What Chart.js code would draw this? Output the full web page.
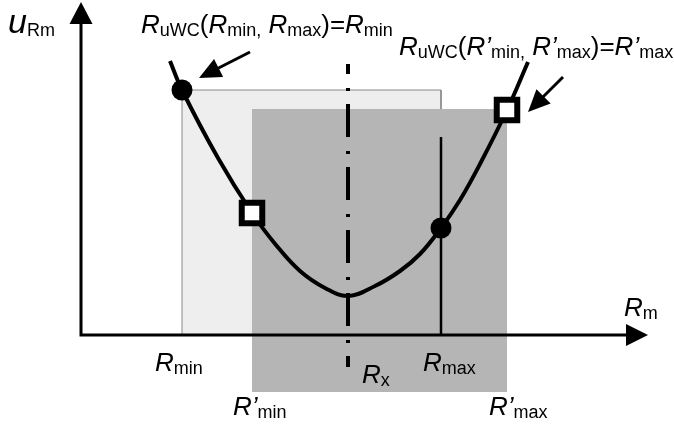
<!DOCTYPE html>
<html>
<head>
<meta charset="utf-8">
<script src="https://cdn.jsdelivr.net/npm/chart.js@4.4.0/dist/chart.umd.min.js"></script>
<style>
  html, body { margin: 0; padding: 0; background: #fff; }
</style>
</head>
<body>
<canvas id="chart" width="674" height="428"></canvas>
<script>
// uncertainty curve u(Rm), sampled along the resistance axis
const curveR = [8.9, 10.1, 13.7, 17.1, 19.5, 21.9, 24.4, 26.7, 29.4, 31.9, 33.9, 36.0, 37.9, 39.9, 42.6, 44.7];
const curveU = [27.4, 24.5, 17.7, 12.2, 9.0, 6.4, 4.7, 3.9, 4.9, 6.4, 8.1, 10.7, 13.5, 17.1, 22.5, 27.3];

// measuring range [Rmin, Rmax] and shifted range [R'min, R'max]
const rangeR = [10.1, 36.0];
const rangeRPrime = [17.1, 42.6];
const rangeTops = [24.5, 22.6];
const primeBottom = -5.7;
const rX = 26.7;
const rXLine = [27.1, -3.2];
const rMaxLineTop = 19.8;

// worst-case points on the curve
const circleU = [24.5, 10.7];
const squareU = [12.2, 22.5];

const FONT = '"Liberation Sans", Arial, sans-serif';

function drawRich(ctx, x, y, parts) {
  for (const [text, kind] of parts) {
    let dy = 0;
    if (kind === 'i') ctx.font = 'italic 26px ' + FONT;
    else if (kind === 'u') ctx.font = 'italic 34px ' + FONT;
    else if (kind === 'n') ctx.font = '26px ' + FONT;
    else { ctx.font = '18px ' + FONT; dy = 3; }
    ctx.fillText(text, x, y + dy);
    x += ctx.measureText(text).width;
  }
}

function arrowHead(ctx, x0, y0, x1, y1, len, half) {
  const a = Math.atan2(y1 - y0, x1 - x0);
  ctx.beginPath();
  ctx.moveTo(x1, y1);
  ctx.lineTo(x1 - len * Math.cos(a) + half * Math.sin(a), y1 - len * Math.sin(a) - half * Math.cos(a));
  ctx.lineTo(x1 - len * Math.cos(a) - half * Math.sin(a), y1 - len * Math.sin(a) + half * Math.cos(a));
  ctx.closePath();
  ctx.fill();
}

function arrow(ctx, x0, y0, x1, y1, width, len, half) {
  const a = Math.atan2(y1 - y0, x1 - x0);
  ctx.lineWidth = width;
  ctx.beginPath();
  ctx.moveTo(x0, y0);
  ctx.lineTo(x1 - len * 0.8 * Math.cos(a), y1 - len * 0.8 * Math.sin(a));
  ctx.stroke();
  arrowHead(ctx, x0, y0, x1, y1, len, half);
}

const diagram = {
  id: 'diagram',
  afterDatasetsDraw(chart) {
    const ctx = chart.ctx;
    const xs = chart.scales.x, ys = chart.scales.y;
    const area = chart.chartArea;
    const x0 = xs.getPixelForValue(0), y0 = ys.getPixelForValue(0);
    ctx.save();
    ctx.fillStyle = '#000';
    ctx.strokeStyle = '#000';
    ctx.lineCap = 'butt';

    // axes with arrow heads
    ctx.lineWidth = 3;
    ctx.beginPath();
    ctx.moveTo(x0, area.top + 15);
    ctx.lineTo(x0, y0);
    ctx.lineTo(area.right - 15, y0);
    ctx.stroke();
    arrowHead(ctx, x0, y0, x0, area.top, 22, 11.5);
    arrowHead(ctx, x0, y0, area.right, y0, 22, 11);

    // pointers to the worst-case markers
    const c1x = xs.getPixelForValue(rangeR[0]), c1y = ys.getPixelForValue(circleU[0]);
    arrow(ctx, c1x + 68, c1y - 38, c1x + 17, c1y - 12, 3, 22, 10);
    const s2x = xs.getPixelForValue(rangeRPrime[1]), s2y = ys.getPixelForValue(squareU[1]);
    arrow(ctx, s2x + 56, s2y - 33, s2x + 21, s2y + 2, 3, 22, 10);

    // labels
    ctx.textBaseline = 'alphabetic';
    drawRich(ctx, 8, 33, [['u', 'u'], ['Rm', 's']]);
    drawRich(ctx, 141, 33, [['R', 'i'], ['uWC', 's'], ['(', 'n'], ['R', 'i'], ['min,', 's'], [' ', 'n'],
      ['R', 'i'], ['max', 's'], [')=', 'n'], ['R', 'i'], ['min', 's']]);
    drawRich(ctx, 399, 55, [['R', 'i'], ['uWC', 's'], ['(', 'n'], ['R\u2019', 'i'], ['min,', 's'], [' ', 'n'],
      ['R\u2019', 'i'], ['max', 's'], [')=', 'n'], ['R\u2019', 'i'], ['max', 's']]);
    drawRich(ctx, 624, 316, [['R', 'i'], ['m', 's']]);
    drawRich(ctx, xs.getPixelForValue(rangeR[0]) - 27, 371, [['R', 'i'], ['min', 's']]);
    drawRich(ctx, xs.getPixelForValue(rangeR[1]) - 18, 371, [['R', 'i'], ['max', 's']]);
    drawRich(ctx, xs.getPixelForValue(rX) + 14, 383, [['R', 'i'], ['x', 's']]);
    drawRich(ctx, xs.getPixelForValue(rangeRPrime[0]) - 19, 415, [['R\u2019', 'i'], ['min', 's']]);
    drawRich(ctx, xs.getPixelForValue(rangeRPrime[1]) - 18, 415, [['R\u2019', 'i'], ['max', 's']]);
    ctx.restore();
  }
};

const rect = (x0, x1, bottom, top) => [
  { x: x0, y: bottom }, { x: x0, y: top }, { x: x1, y: top }, { x: x1, y: bottom }
];

new Chart(document.getElementById('chart'), {
  type: 'scatter',
  data: {
    datasets: [
      {
        data: rect(rangeR[0], rangeR[1], 0, rangeTops[0]),
        order: 7,
        showLine: true,
        borderColor: '#8a8a8a',
        borderWidth: 1,
        backgroundColor: '#eeeeee',
        fill: { value: 0 },
        pointRadius: 0,
        tension: 0
      },
      {
        data: rect(rangeRPrime[0], rangeRPrime[1], primeBottom, rangeTops[1]),
        order: 6,
        showLine: true,
        borderWidth: 0,
        borderColor: 'rgba(0,0,0,0)',
        backgroundColor: '#b5b5b5',
        fill: { value: primeBottom },
        pointRadius: 0,
        tension: 0
      },
      {
        data: [{ x: rangeR[1], y: 0 }, { x: rangeR[1], y: rMaxLineTop }],
        order: 5,
        showLine: true,
        borderColor: '#000',
        borderWidth: 2.5,
        pointRadius: 0
      },
      {
        data: [{ x: rX, y: rXLine[0] }, { x: rX, y: rXLine[1] }],
        order: 4,
        showLine: true,
        borderColor: '#000',
        borderWidth: 4,
        borderDash: [33, 14, 3, 13],
        borderDashOffset: 23,
        pointRadius: 0
      },
      {
        data: curveR.map((r, i) => ({ x: r, y: curveU[i] })),
        order: 3,
        showLine: true,
        borderColor: '#000',
        borderWidth: 4,
        tension: 0.4,
        pointRadius: 0
      },
      {
        data: [{ x: rangeR[0], y: circleU[0] }, { x: rangeR[1], y: circleU[1] }],
        order: 2,
        pointStyle: 'circle',
        pointRadius: 10.5,
        backgroundColor: '#000',
        borderColor: '#000',
        borderWidth: 0
      },
      {
        data: [{ x: rangeRPrime[0], y: squareU[0] }, { x: rangeRPrime[1], y: squareU[1] }],
        order: 1,
        pointStyle: 'rect',
        pointRadius: 14.5,
        backgroundColor: '#fff',
        borderColor: '#000',
        borderWidth: 6
      }
    ]
  },
  options: {
    responsive: false,
    animation: false,
    devicePixelRatio: 1,
    layout: { autoPadding: false, padding: { left: 81, right: 26, top: 2, bottom: 28 } },
    plugins: { legend: { display: false }, tooltip: { enabled: false } },
    events: [],
    scales: {
      x: { type: 'linear', min: 0, max: 56.7, display: false },
      y: { type: 'linear', min: -6.5, max: 33.3, display: false }
    }
  },
  plugins: [diagram]
});
</script>
</body>
</html>
